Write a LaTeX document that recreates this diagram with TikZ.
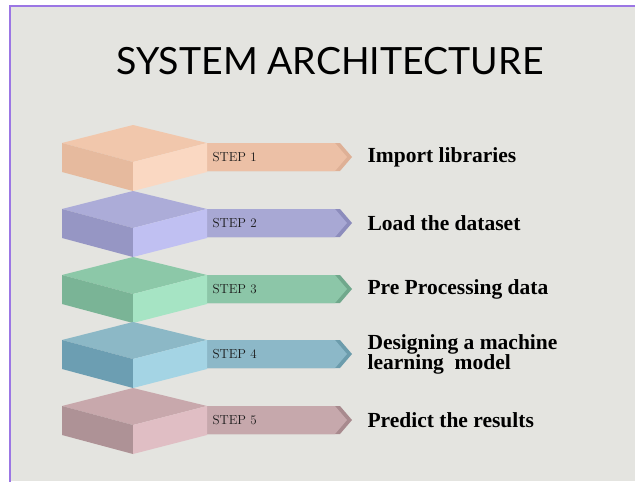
\documentclass[tikz,border=0pt]{standalone}
\usepackage{fontspec}
\newfontfamily\titlefont{Lato}
\newfontfamily\stepfont{Liberation Serif}
\usepackage{tikz}

% page colours
\definecolor{bggray}{RGB}{228,228,224}
\definecolor{framepurple}{RGB}{155,118,228}
% step 1 .. step 5: top, left, right, band, tip
\definecolor{topA}{RGB}{241,199,172}\definecolor{leftA}{RGB}{230,186,158}\definecolor{rightA}{RGB}{250,216,194}\definecolor{bandA}{RGB}{236,192,166}\definecolor{tipA}{RGB}{222,176,150}
\definecolor{topB}{RGB}{172,172,216}\definecolor{leftB}{RGB}{150,150,196}\definecolor{rightB}{RGB}{192,192,242}\definecolor{bandB}{RGB}{168,168,212}\definecolor{tipB}{RGB}{140,140,188}
\definecolor{topC}{RGB}{140,200,168}\definecolor{leftC}{RGB}{122,180,150}\definecolor{rightC}{RGB}{166,228,196}\definecolor{bandC}{RGB}{140,198,168}\definecolor{tipC}{RGB}{112,168,140}
\definecolor{topD}{RGB}{140,184,198}\definecolor{leftD}{RGB}{108,158,178}\definecolor{rightD}{RGB}{164,212,228}\definecolor{bandD}{RGB}{140,184,200}\definecolor{tipD}{RGB}{108,156,172}
\definecolor{topE}{RGB}{200,168,172}\definecolor{leftE}{RGB}{174,146,150}\definecolor{rightE}{RGB}{224,190,196}\definecolor{bandE}{RGB}{198,168,172}\definecolor{tipE}{RGB}{168,138,142}

\tikzset{
	steplabel/.style={anchor=west,font=\fontsize{13}{13}\selectfont,text=black!90},
	stepitem/.style={anchor=west,align=left,font=\stepfont\bfseries\fontsize{21.5}{20}\selectfont}
}

\begin{document}
\begin{tikzpicture}[x=1pt,y=-1pt]
		% canvas, one unit = one pixel
		\useasboundingbox (0,0) rectangle (635,482);
		\fill[white] (0,0) rectangle (635,482);
		\fill[bggray] (10,6) rectangle (635,481);
		\draw[framepurple,line width=2pt] (10,482) -- (10,6) -- (635,6);
		
		% title
		\node[font=\titlefont\fontsize{37.5}{37.5}\selectfont] (title) at (330,61) {SYSTEM ARCHITECTURE};
		
		% the stacked blocks
		\def\cx{133}   % front edge of a block
		\def\dl{71}    % half width left
		\def\dr{74}    % half width right
		\def\h{29}     % side height
		\def\bend{340} % start of the arrow tip
		\foreach \k/\n/\yc/\txt in {A/1/157/Import libraries, B/2/223/Load the dataset,
			C/3/289/Pre Processing data, D/4/354/{Designing a machine\\learning~ model},
			E/5/420/Predict the results}{
			\pgfmathsetmacro{\ya}{\yc-14}
			\pgfmathsetmacro{\yb}{\yc+14}
			% band with chevron end
			\fill[tip\k] (207,\ya) -- (\bend,\ya) -- (\bend+12,\yc) -- (\bend,\yb) -- (207,\yb) -- cycle;
			\fill[band\k] (207,\ya) -- (\bend-5,\ya) -- (\bend+7,\yc) -- (\bend-5,\yb) -- (207,\yb) -- cycle;
			% block faces
			\fill[top\k] (\cx,\ya-18) -- (\cx+\dr,\ya) -- (\cx,\ya+19) -- (\cx-\dl,\ya) -- cycle;
			\fill[left\k] (\cx-\dl,\ya) -- (\cx,\ya+19) -- (\cx,\ya+19+\h) -- (\cx-\dl,\ya+\h) -- cycle;
			\fill[right\k] (\cx,\ya+19) -- (\cx+\dr,\ya) -- (\cx+\dr,\ya+\h) -- (\cx,\ya+19+\h) -- cycle;
			% labels
			\node[steplabel] (step\n) at (209,\yc) {STEP \n};
			\node[stepitem] (item\n) at (364,\yc) {\txt};
		}
	\end{tikzpicture}
\end{document}
